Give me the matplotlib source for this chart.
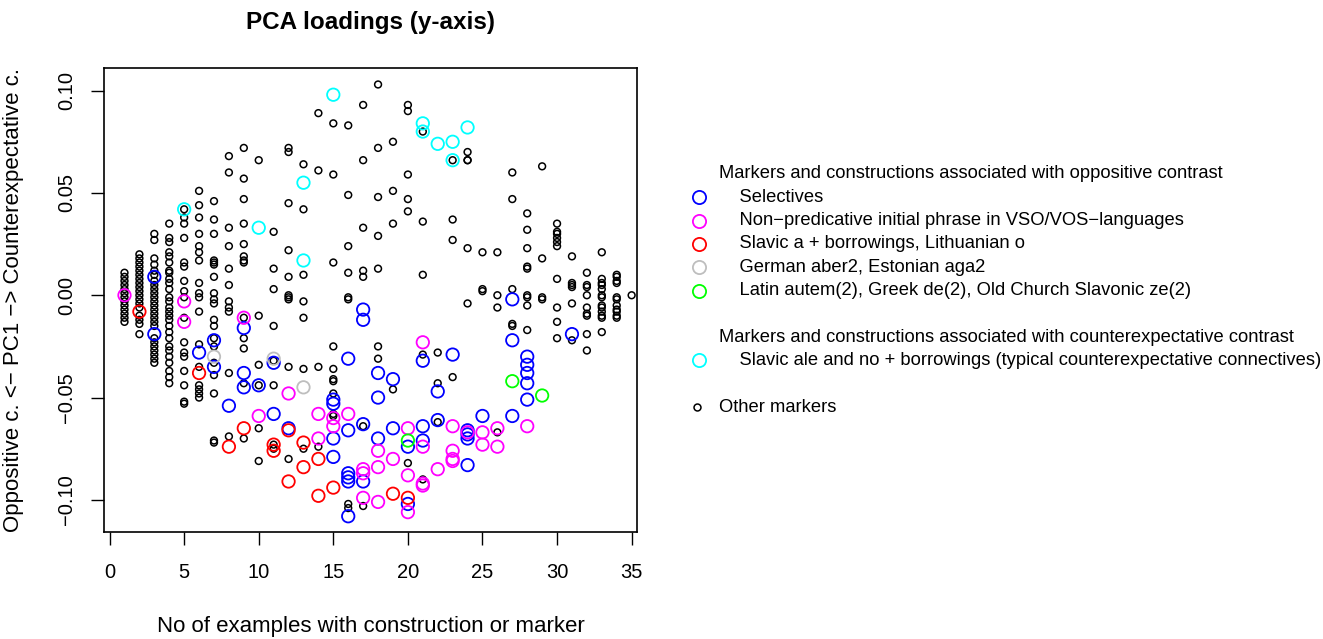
import matplotlib
matplotlib.use("Agg")
import matplotlib.pyplot as plt
from matplotlib.lines import Line2D

plt.rcParams['font.family'] = ['Liberation Sans', 'DejaVu Sans']

# ---- data ----
# Selectives (blue)
sel_x = [3, 3, 6, 7, 7, 8, 9, 9, 9, 10, 11, 11, 12, 15, 15, 15, 15, 16, 16, 16, 16, 16, 16,
         17, 17, 17, 17, 18, 18, 18, 19, 19, 20, 20, 21, 21, 21, 22, 22, 23, 24, 24, 24, 24,
         25, 27, 27, 27, 28, 28, 28, 28, 28, 31]
sel_y = [0.009, -0.019, -0.028, -0.022, -0.035, -0.054, -0.016, -0.038, -0.045, -0.044, -0.033, -0.058,
         -0.065, -0.051, -0.053, -0.070, -0.079, -0.031, -0.066, -0.087, -0.089, -0.091, -0.108,
         -0.007, -0.012, -0.063, -0.091, -0.038, -0.050, -0.070, -0.041, -0.065, -0.074, -0.102,
         -0.032, -0.064, -0.071, -0.047, -0.061, -0.029, -0.066, -0.068, -0.070, -0.083,
         -0.059, -0.002, -0.022, -0.059, -0.030, -0.034, -0.038, -0.043, -0.051, -0.019]

# Non-predicative initial phrase (magenta)
vso_x = [1, 5, 5, 9, 10, 12, 14, 14, 15, 15, 16, 17, 17, 17, 18, 18, 18, 19, 20, 20, 20,
         21, 21, 21, 21, 22, 23, 23, 23, 23, 24, 25, 25, 26, 26, 28]
vso_y = [0.000, -0.003, -0.013, -0.011, -0.059, -0.048, -0.058, -0.070, -0.060, -0.064, -0.058,
         -0.085, -0.087, -0.099, -0.076, -0.084, -0.101, -0.080, -0.065, -0.088, -0.106,
         -0.023, -0.074, -0.092, -0.093, -0.085, -0.064, -0.076, -0.080, -0.081, -0.067,
         -0.067, -0.073, -0.065, -0.074, -0.064]

# Slavic a + borrowings (red)
slav_a_x = [2, 6, 8, 9, 11, 11, 12, 12, 13, 13, 14, 14, 15, 19, 20]
slav_a_y = [-0.008, -0.038, -0.074, -0.065, -0.073, -0.076, -0.066, -0.091, -0.072, -0.084,
            -0.080, -0.098, -0.094, -0.097, -0.099]

# German aber2, Estonian aga2 (grey)
aber_x = [7, 11, 13]
aber_y = [-0.030, -0.031, -0.045]

# Latin autem(2) etc. (green)
autem_x = [20, 27, 29]
autem_y = [-0.071, -0.042, -0.049]

# Slavic ale and no (cyan)
ale_x = [5, 10, 13, 13, 15, 21, 21, 22, 23, 23, 24]
ale_y = [0.042, 0.033, 0.055, 0.017, 0.098, 0.084, 0.080, 0.074, 0.075, 0.066, 0.082]

# Other markers (black), one list of loadings per count 1..35
other_counts = list(range(1, 36))
other_y = [
    [0.011, 0.009, 0.007, 0.005, 0.003, 0.001, -0.001, -0.003, -0.005, -0.007, -0.009, -0.011, -0.013],
    [0.020, 0.018, 0.016, 0.014, 0.012, 0.010, 0.008, 0.006, 0.004, 0.002, 0.000, -0.002, -0.004,
     -0.006, -0.010, -0.012, -0.014, -0.019],
    [0.030, 0.027, 0.018, 0.015, 0.012, 0.010, 0.007, 0.005, 0.003, 0.001, -0.001, -0.003, -0.005,
     -0.007, -0.009, -0.011, -0.013, -0.015, -0.021, -0.023, -0.025, -0.027, -0.029, -0.031, -0.033],
    [0.035, 0.028, 0.026, 0.021, 0.019, 0.016, 0.012, 0.011, 0.008, 0.006, 0.003, -0.001, -0.003,
     -0.006, -0.008, -0.010, -0.012, -0.015, -0.018, -0.021, -0.025, -0.027, -0.030, -0.033,
     -0.037, -0.040, -0.043],
    [0.042, 0.038, 0.035, 0.028, 0.016, 0.014, 0.007, 0.002, -0.001, -0.011, -0.023, -0.028,
     -0.030, -0.037, -0.044, -0.052, -0.053],
    [0.051, 0.044, 0.038, 0.030, 0.024, 0.021, 0.017, 0.006, 0.001, -0.001, -0.008, -0.024,
     -0.035, -0.044, -0.046, -0.048, -0.050],
    [0.046, 0.037, 0.030, 0.017, 0.016, 0.015, 0.009, 0.001, -0.002, -0.004, -0.012, -0.015,
     -0.021, -0.025, -0.033, -0.039, -0.048, -0.071, -0.072],
    [0.068, 0.060, 0.033, 0.024, 0.013, 0.005, -0.003, -0.006, -0.008, -0.038, -0.069],
    [0.072, 0.057, 0.047, 0.035, 0.025, 0.019, 0.017, 0.016, -0.011, -0.021, -0.026, -0.043, -0.070],
    [0.066, -0.010, -0.034, -0.044, -0.065, -0.081],
    [0.031, 0.013, 0.003, -0.015, -0.032, -0.044, -0.073, -0.075],
    [0.072, 0.070, 0.045, 0.022, 0.009, 0.000, -0.001, -0.002, -0.035, -0.080],
    [0.064, 0.042, 0.010, -0.003, -0.011, -0.036, -0.075],
    [0.089, 0.061, -0.035, -0.074],
    [0.084, 0.059, 0.016, -0.025, -0.036, -0.041, -0.042, -0.048, -0.058, -0.059],
    [0.083, 0.049, 0.024, 0.011, -0.001, -0.002, -0.102, -0.104],
    [0.093, 0.066, 0.033, 0.012, 0.009, -0.064, -0.103],
    [0.103, 0.072, 0.048, 0.029, 0.013, -0.025, -0.031],
    [0.075, 0.051, 0.035, -0.046],
    [0.093, 0.090, 0.059, 0.047, 0.041, -0.082],
    [0.080, 0.036, 0.010, -0.029, -0.090],
    [-0.028, -0.043, -0.062],
    [0.066, 0.037, 0.027, -0.040],
    [0.070, 0.066, 0.066, 0.023, -0.004],
    [0.021, 0.003, 0.002],
    [0.021, 0.000, -0.006, -0.067],
    [0.060, 0.047, 0.003, -0.014, -0.015],
    [0.040, 0.032, 0.023, 0.014, 0.013, 0.000, -0.001, -0.005, -0.017],
    [0.063, 0.018, -0.001, -0.002],
    [0.035, 0.031, 0.030, 0.028, 0.026, 0.024, 0.008, -0.006, -0.013, -0.021],
    [0.019, 0.006, 0.005, 0.004, -0.004, -0.022],
    [0.011, 0.005, 0.004, 0.000, -0.006, -0.009, -0.010, -0.019, -0.027],
    [0.021, 0.008, 0.006, 0.005, 0.003, 0.000, -0.001, -0.005, -0.006, -0.008, -0.010, -0.011, -0.018],
    [0.010, 0.009, 0.007, 0.006, -0.001, -0.002, -0.005, -0.007, -0.008, -0.010, -0.011],
    [0.000],
]

x_ticks = [0, 5, 10, 15, 20, 25, 30, 35]
y_ticks = [-0.10, -0.05, 0.00, 0.05, 0.10]

groups = [
    ("    Selectives", sel_x, sel_y, "#0000FF"),
    ("    Non\u2212predicative initial phrase in VSO/VOS\u2212languages", vso_x, vso_y, "#FF00FF"),
    ("    Slavic a + borrowings, Lithuanian o", slav_a_x, slav_a_y, "#FF0000"),
    ("    German aber2, Estonian aga2", aber_x, aber_y, "#BEBEBE"),
    ("    Latin autem(2), Greek de(2), Old Church Slavonic ze(2)", autem_x, autem_y, "#00FF00"),
]
cyan_label = "    Slavic ale and no + borrowings (typical counterexpectative connectives)"

W, H = 1323, 639
fig = plt.figure(figsize=(W / 100, H / 100), dpi=100)
ax = fig.add_axes([104.5 / W, 1 - 532 / H, (637 - 104.5) / W, (532 - 67.5) / H])

ox = []
oy = []
for c, ys in zip(other_counts, other_y):
    ox += [c] * len(ys)
    oy += ys
ax.scatter(ox, oy, s=24, facecolors='none', edgecolors='black', linewidths=1.1, zorder=2)

for lab, xs, ys, col in groups:
    ax.scatter(xs, ys, s=80, facecolors='none', edgecolors=col, linewidths=1.3, zorder=3)
ax.scatter(ale_x, ale_y, s=80, facecolors='none', edgecolors='#00FFFF', linewidths=1.3, zorder=3)

ax.set_xlim(-0.34, 35.36)
ax.set_ylim(-0.1157, 0.1113)
ax.set_xticks(x_ticks)
ax.set_yticks(y_ticks)
ax.set_yticklabels(["\u22120.10", "\u22120.05", "0.00", "0.05", "0.10"], rotation=90, va='center')
ax.tick_params(direction='out', length=9.5, width=1, labelsize=14.5, pad=13, colors='black')
ax.tick_params(axis='y', pad=11)
for sp in ax.spines.values():
    sp.set_linewidth(1.2)
ax.set_xlabel("No of examples with construction or marker", fontsize=16, labelpad=24)
ax.set_ylabel("Oppositive c. <\u2212 PC1 \u2212> Counterexpectative c.", fontsize=16, labelpad=24)
ax.set_title("PCA loadings (y-axis)", fontsize=17.5, fontweight='bold', pad=28)

# ---- legend, drawn by hand like R's legend() ----
row0, step = 174, 23.3
def fy(row):
    return 1 - (row0 + row * step) / H

fs = 13.2
fig.text(719 / W, fy(0), "Markers and constructions associated with oppositive contrast",
         fontsize=fs, va='center')
for i, (lab, xs, ys, col) in enumerate(groups):
    fig.add_artist(Line2D([699 / W], [fy(i + 1)], transform=fig.transFigure, marker='o',
                          ms=9.5, mfc='none', mec=col, mew=1.3, ls='none'))
    fig.text(719 / W, fy(i + 1), lab, fontsize=fs, va='center')
fig.text(719 / W, fy(7), "Markers and constructions associated with counterexpectative contrast",
         fontsize=fs, va='center')
fig.add_artist(Line2D([699 / W], [fy(8)], transform=fig.transFigure, marker='o',
                      ms=9.5, mfc='none', mec='#00FFFF', mew=1.3, ls='none'))
fig.text(719 / W, fy(8), cyan_label, fontsize=fs, va='center')
fig.add_artist(Line2D([697 / W], [fy(10)], transform=fig.transFigure, marker='o',
                      ms=5, mfc='none', mec='black', mew=1.1, ls='none'))
fig.text(719 / W, fy(10), "Other markers", fontsize=fs, va='center')

fig.savefig("out.png", dpi=100)
